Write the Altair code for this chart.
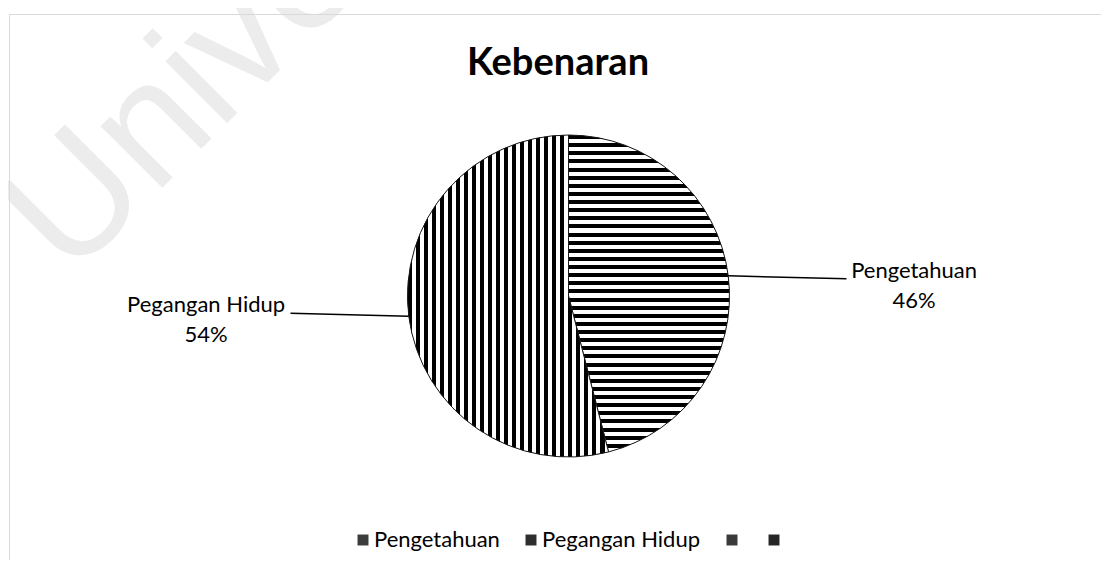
import altair as alt

# ---- data ----
TITLE = "Kebenaran"
categories = ["Pengetahuan", "Pegangan Hidup", " ", "  "]
values = [46, 54, 0, 0]
WATERMARK = "Universiti"

rows = [{"cat": c, "value": v} for c, v in zip(categories, values)]

# ---- layout constants (plot coordinates) ----
W, H = 1093, 552
CX, CY, R = 560.5, 288, 161
FONT = "Lato"


def stripes(n, vertical):
    stops = []
    for i in range(n):
        a, m, b = i / n, (i + 0.5) / n, (i + 1) / n
        stops += [
            {"color": "#000000", "offset": a},
            {"color": "#000000", "offset": m},
            {"color": "#ffffff", "offset": m},
            {"color": "#ffffff", "offset": b},
        ]
    g = {"gradient": "linear", "stops": stops, "x1": 0, "y1": 0}
    if vertical:
        g.update({"x2": 1, "y2": 0})
    else:
        g.update({"x2": 0, "y2": 1})
    return g


grad_h = stripes(39, vertical=False)
grad_v = stripes(25, vertical=True)

base = alt.Chart(alt.Data(values=rows)).transform_window(idx="row_number()")

# legend provider (hidden under patterned arcs)
legend_arcs = base.mark_arc(outerRadius=R).encode(
    theta=alt.Theta("value:Q", stack=True),
    order=alt.Order("idx:Q"),
    fill=alt.Fill(
        "cat:N",
        sort=categories,
        scale=alt.Scale(domain=categories, range=["#3c3c3c", "#2e2e2e", "#3a3a3a", "#262626"]),
        legend=alt.Legend(
            orient="none",
            legendX=344,
            legendY=521,
            direction="horizontal",
            columns=4,
            title=None,
            symbolType="square",
            symbolSize=120,
            symbolStrokeWidth=0,
            labelFont=FONT,
            labelFontSize=22,
            labelColor="#000000",
            labelOffset=0,
            labelLimit=0,
            columnPadding=20,
        ),
    ),
    x=alt.value(CX),
    y=alt.value(CY),
)

pattern_arcs = base.mark_arc(outerRadius=R, stroke="#1a1a1a", strokeWidth=1).encode(
    theta=alt.Theta("value:Q", stack=True),
    order=alt.Order("idx:Q"),
    detail="cat:N",
    fill=alt.condition("datum.cat == 'Pengetahuan'", alt.value(grad_h), alt.value(grad_v)),
    x=alt.value(CX),
    y=alt.value(CY),
)

geo = (
    base.transform_joinaggregate(total="sum(value)")
    .transform_window(cum="sum(value)", sort=[alt.SortField("idx")], frame=[None, 0])
    .transform_filter("datum.value > 0")
    .transform_calculate(mid="2*PI*(datum.cum - datum.value/2)/datum.total")
    .transform_calculate(sgn="sin(datum.mid) >= 0 ? 1 : -1")
    .transform_calculate(
        sx=f"{CX} + {R}*sin(datum.mid)",
        sy=f"{CY} - {R}*cos(datum.mid)",
    )
    .transform_calculate(
        ex=f"{CX} + datum.sgn*({R}+117)",
        ey="datum.sy + datum.sgn*3",
    )
    .transform_calculate(
        lx="datum.ex + datum.sgn*(6 + 5.6*length(datum.cat))",
        txt="datum.cat + '|' + format(datum.value/datum.total, '.0%')",
    )
)

leaders = geo.mark_rule(color="#000000", strokeWidth=1.5).encode(
    x=alt.X("sx:Q", scale=None),
    y=alt.Y("sy:Q", scale=None),
    x2="ex:Q",
    y2="ey:Q",
)

labels = geo.mark_text(
    font=FONT, fontSize=22, color="#000000", align="center", baseline="alphabetic",
    lineBreak="|", lineHeight=30, dy=-1,
).encode(
    x=alt.X("lx:Q", scale=None),
    y=alt.Y("ey:Q", scale=None),
    text="txt:N",
)

title = alt.Chart(alt.Data(values=[{"t": TITLE}])).mark_text(
    font=FONT, fontSize=38, fontWeight="bold", color="#000000", align="center", baseline="alphabetic"
).encode(x=alt.value(550), y=alt.value(67), text="t:N")

watermark = alt.Chart(alt.Data(values=[{"t": WATERMARK}])).mark_text(
    font="Liberation Sans", fontSize=165, color="#ececec", align="left", baseline="alphabetic", angle=315
).encode(x=alt.value(62), y=alt.value(272), text="t:N")

border_data = alt.Data(values=[{}])
border_top = alt.Chart(border_data).mark_rule(color="#d9d9d9", strokeWidth=1).encode(
    x=alt.value(1.5), x2=alt.value(W), y=alt.value(6.5)
)
border_left = alt.Chart(border_data).mark_rule(color="#d9d9d9", strokeWidth=1).encode(
    x=alt.value(1.5), y=alt.value(6.5), y2=alt.value(H)
)

chart = alt.layer(
    watermark, border_top, border_left, legend_arcs, pattern_arcs, leaders, labels, title
).properties(
    width=W, height=H, autosize=alt.AutoSizeParams(type="none"), padding=0, background="white"
).configure_view(strokeWidth=0)

chart.save("out.html", embed_options={"renderer": "svg", "actions": False})
